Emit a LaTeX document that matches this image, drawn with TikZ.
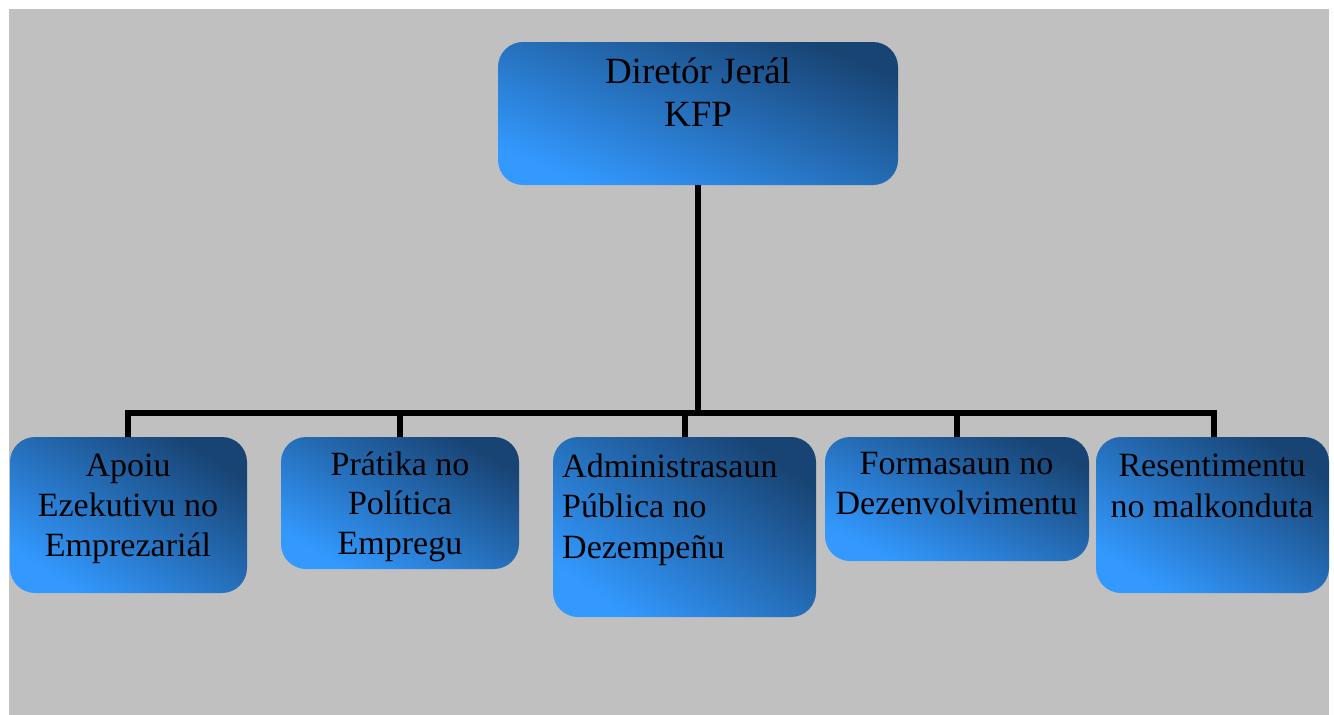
\documentclass[tikz,border=0pt]{standalone}
\usepackage{fontspec}
\setmainfont{Liberation Serif}
\definecolor{bgGray}{RGB}{192,192,192}
\definecolor{boxDark}{RGB}{24,68,116}
\definecolor{boxLight}{RGB}{51,153,255}
\begin{document}
\begin{tikzpicture}[x=1pt,y=-1pt,
  orgbox/.style={rounded corners=25pt, inner sep=0pt, outer sep=0pt,
    top color=boxDark, bottom color=boxLight, shading angle=#1,
    anchor=north west},
  orgbox/.default=-33,
  lbl/.style={inner sep=0pt, anchor=base},
  conn/.style={line width=5.5pt, black}]
\useasboundingbox (0,0) rectangle (1334,715);
\fill[bgGray] (9,9) rectangle (1329,715);
% boxes
\node[orgbox=-22, minimum width=400pt, minimum height=143pt] (top) at (498,42) {};
\node[orgbox, minimum width=237pt, minimum height=156pt] (b1) at (10,437) {};
\node[orgbox=-30, minimum width=238pt, minimum height=132pt] (b2) at (281,437) {};
\node[orgbox=-36, minimum width=263pt, minimum height=180pt] (b3) at (553,437) {};
\node[orgbox=-27, minimum width=264pt, minimum height=124pt] (b4) at (825,437) {};
\node[orgbox, minimum width=233pt, minimum height=156pt] (b5) at (1096,437) {};
% labels
\node[lbl] (ttop) at (698,83.5) {\parbox[t]{390pt}{\centering\fontsize{37}{43}\selectfont Diretór Jerál\\KFP}};
\node[lbl] (t1) at (128,476.5) {\parbox[t]{235pt}{\centering\fontsize{34}{40}\selectfont Apoiu\\Ezekutivu no\\Emprezariál}};
\node[lbl] (t2) at (400,475) {\parbox[t]{235pt}{\centering\fontsize{34}{39.5}\selectfont Prátika no\\Política\\Empregu}};
\node[lbl, anchor=base west] (t3) at (562,477) {\parbox[t]{250pt}{\raggedright\fontsize{34}{40.5}\selectfont Administrasaun\\Pública no\\Dezempeñu}};
\node[lbl] (t4) at (956.5,474) {\parbox[t]{262pt}{\centering\fontsize{34}{40}\selectfont Formasaun no\\Dezenvolvimentu}};
\node[lbl] (t5) at (1212,476) {\parbox[t]{232pt}{\centering\fontsize{34}{41}\selectfont Resentimentu\\no malkonduta}};
% connectors
\coordinate (bus) at (698,413);
\draw[conn] (top.south) -- (bus);
\draw[conn] ([xshift=-0.5pt]b1.north) |- (bus) -| ([xshift=1.5pt]b5.north);
\draw[conn] (b2.north) -- (b2.north |- bus);
\draw[conn] ([xshift=0.5pt]b3.north) -- ([xshift=0.5pt]b3.north |- bus);
\draw[conn] (b4.north) -- (b4.north |- bus);
\end{tikzpicture}
\end{document}
